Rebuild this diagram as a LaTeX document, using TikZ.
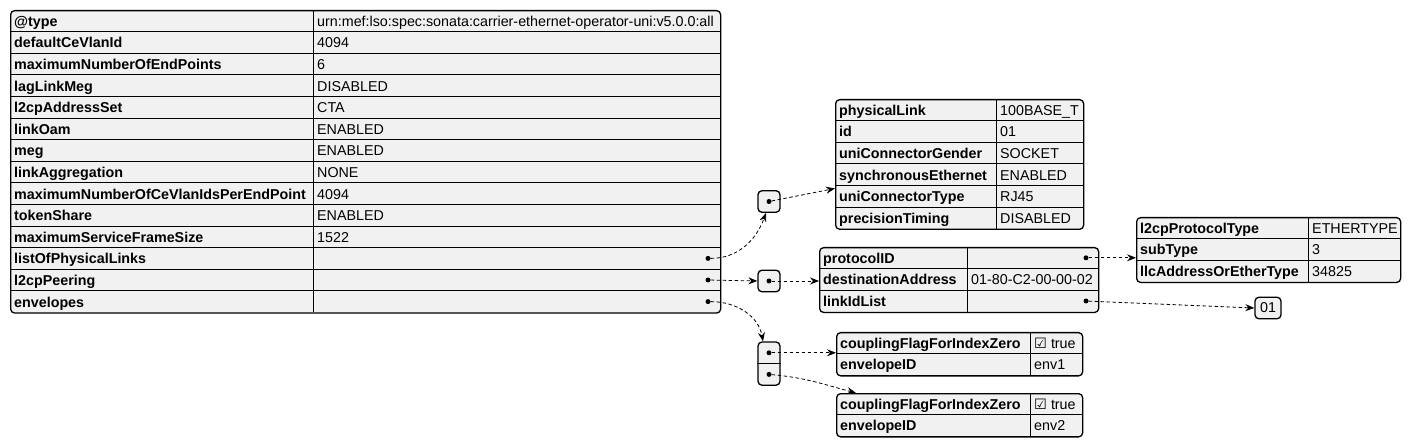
\documentclass[tikz,border=0pt]{standalone}
\usepackage{fontspec}
\setmainfont{Liberation Sans}
\newfontfamily\symfont{DejaVu Sans}
\usepackage{tikz}
\usetikzlibrary{arrows.meta, positioning}
\definecolor{cellGray}{HTML}{F1F1F1}
\newcommand{\rowh}{21.6}
\newcommand{\chk}{{\symfont\char"2611}}
% name, rows, x left, x split, x right, y top, key/value list
\newcommand{\jsontable}[7]{%
  \node[tablebox, minimum width={(#5-#3)*1pt}, minimum height={#2*\rowh*1pt}] (#1) at (#3,#6) {};
  \foreach \k/\v [count=\i] in {#7} {
    \node[keytxt] (#1-k\i) at ({#3+4}, {#6+(\i-0.5)*\rowh+5.5}) {\k};
    \node[valtxt] (#1-v\i) at ({#4+4}, {#6+(\i-0.5)*\rowh+5.5}) {\v};
    \ifnum\i>1 \draw[gridline] (#3, {#6+(\i-1)*\rowh}) -- (#5, {#6+(\i-1)*\rowh});\fi
  }
  \draw[gridline] (#4,#6) -- (#4, {#6+#2*\rowh});
}

\begin{document}
\begin{tikzpicture}[x=1pt, y=-1pt,
    tablebox/.style={draw, line width=1.3pt, fill=cellGray, rounded corners=4pt, inner sep=0pt, anchor=north west},
    gridline/.style={line width=0.8pt},
    keytxt/.style={anchor=base west, inner sep=0pt, font=\fontsize{14.3}{16}\selectfont\bfseries},
    valtxt/.style={anchor=base west, inner sep=0pt, font=\fontsize{14.3}{16}\selectfont},
    arrbox/.style={draw, line width=1.3pt, fill=cellGray, rounded corners=4pt, inner sep=0pt, minimum width=22pt, minimum height=21.6pt},
    jdot/.style={circle, fill=black, inner sep=0pt, minimum size=5pt},
    link/.style={line width=0.8pt, dash pattern=on 3.5pt off 2.5pt, -{Stealth[length=9pt, width=7pt, inset=3pt]}}]
  \useasboundingbox[fill=white] (0,0) rectangle (1411,446);

  \jsontable{uni}{14}{10}{313}{720}{10}{@type/urn:mef:lso:spec:sonata:carrier-ethernet-operator-uni:v5.0.0:all,
    defaultCeVlanId/4094, maximumNumberOfEndPoints/6, lagLinkMeg/DISABLED, l2cpAddressSet/CTA,
    linkOam/ENABLED, meg/ENABLED, linkAggregation/NONE, maximumNumberOfCeVlanIdsPerEndPoint/4094,
    tokenShare/ENABLED, maximumServiceFrameSize/1522, listOfPhysicalLinks/{}, l2cpPeering/{}, envelopes/{}}
  \foreach \i in {12,13,14}
    \node[jdot] (uni-b\i) at (708, {10+(\i-0.5)*\rowh}) {};

  \jsontable{phys}{6}{835}{996}{1083}{99}{physicalLink/100BASE\_T, id/01, uniConnectorGender/SOCKET,
    synchronousEthernet/ENABLED, uniConnectorType/RJ45, precisionTiming/DISABLED}
  \jsontable{prot}{3}{819}{967}{1098}{247}{protocolID/{}, destinationAddress/01-80-C2-00-00-02, linkIdList/{}}
  \foreach \i in {1,3}
    \node[jdot] (prot-b\i) at (1086, {247+(\i-0.5)*\rowh}) {};
  \jsontable{l2cp}{3}{1136}{1308}{1400}{217}{l2cpProtocolType/ETHERTYPE, subType/3, llcAddressOrEtherType/34825}
  \jsontable{envA}{2}{836}{1030}{1082}{332}{couplingFlagForIndexZero/\chk\ true, envelopeID/env1}
  \jsontable{envB}{2}{836}{1030}{1082}{393}{couplingFlagForIndexZero/\chk\ true, envelopeID/env2}

  \node[arrbox] (links) at (769, 201.5) {};
  \node[jdot] (links-b) at (links.center) {};
  \node[arrbox] (peer) at (769, 281) {};
  \node[jdot] (peer-b) at (peer.center) {};
  \node[arrbox, minimum height=43.2pt] (envs) at (769, 363.6) {};
  \draw[gridline] (envs.west) -- (envs.east);
  \node[jdot] (envs-b1) at (769, 352.8) {};
  \node[jdot] (envs-b2) at (769, 374.4) {};
  \node[arrbox, minimum width=26pt, font=\fontsize{14.3}{16}\selectfont] (ids) at (1268, 308) {01};

  \draw[link] (uni-b12) to[out=0, in=-110] ([xshift=-3pt]links.south);
  \draw[link] (links-b) -- ([yshift=-24pt]phys.west);
  \draw[link] (uni-b13) -- (peer.west);
  \draw[link] (peer-b) -- (peer-b -| prot.west);
  \draw[link] (prot-b1) -- (prot-b1 -| l2cp.west);
  \draw[link] (prot-b3) -- (ids.west);
  \draw[link] (uni-b14) to[out=0, in=100] ([xshift=-6pt]envs.north);
  \draw[link] (envs-b1) -- (envs-b1 -| envA.west);
  \draw[link] (envs-b2) to[out=-5, in=165] ([xshift=20pt]envB.north west);
\end{tikzpicture}
\end{document}
